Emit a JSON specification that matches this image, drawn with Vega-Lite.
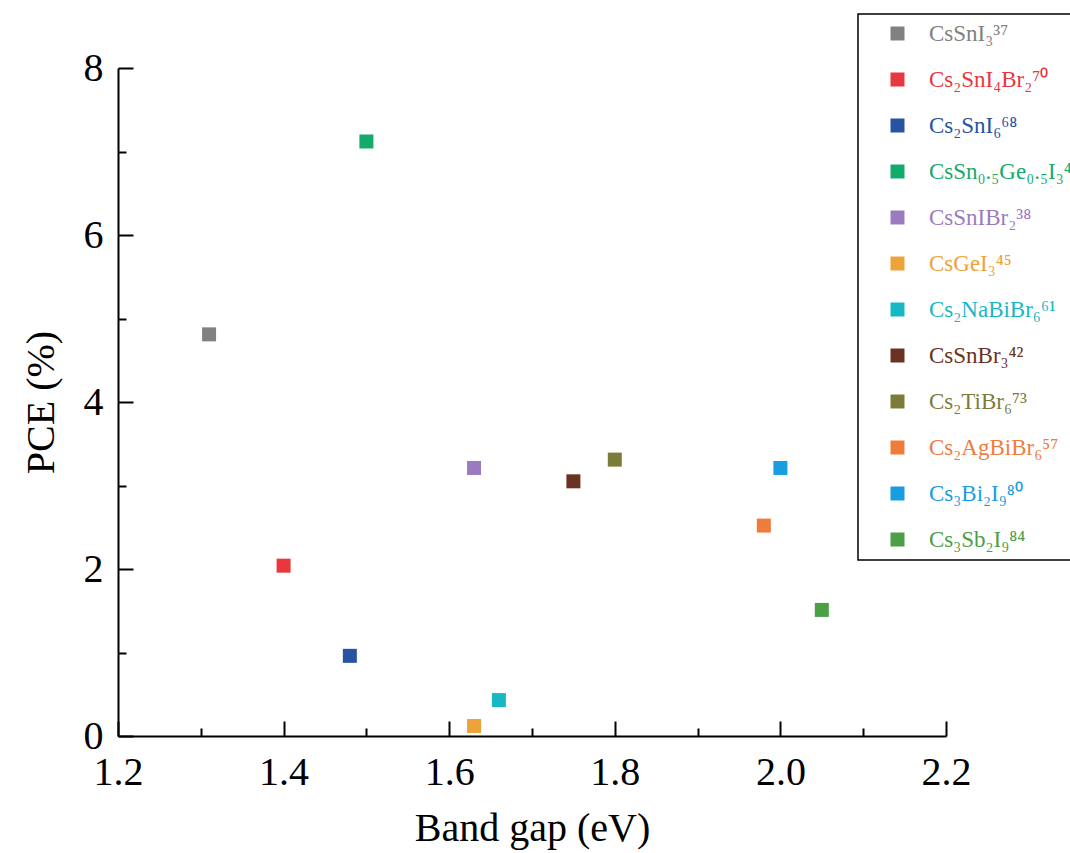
{
  "$schema": "https://vega.github.io/schema/vega-lite/v6.json",
  "width": 828,
  "height": 668,
  "autosize": "none",
  "padding": {"left": 118, "top": 68, "right": 124, "bottom": 117},
  "background": "white",
  "config": {
    "view": {"stroke": null},
    "font": "Liberation Serif",
    "axis": {
      "grid": false,
      "domainColor": "black",
      "domainWidth": 2,
      "tickColor": "black",
      "tickWidth": 2,
      "labelFont": "Liberation Serif",
      "titleFont": "Liberation Serif",
      "labelColor": "black",
      "titleColor": "black",
      "titleFontWeight": "normal"
    }
  },
  "data": {
    "values": [
      {"material": "CsSnI₃³⁷", "gap": 1.31, "pce": 4.81},
      {"material": "Cs₂SnI₄Br₂⁷⁰", "gap": 1.40, "pce": 2.04},
      {"material": "Cs₂SnI₆⁶⁸", "gap": 1.48, "pce": 0.96},
      {"material": "CsSn₀.₅Ge₀.₅I₃⁴³", "gap": 1.50, "pce": 7.12},
      {"material": "CsSnIBr₂³⁸", "gap": 1.63, "pce": 3.21},
      {"material": "CsGeI₃⁴⁵", "gap": 1.63, "pce": 0.12},
      {"material": "Cs₂NaBiBr₆⁶¹", "gap": 1.66, "pce": 0.43},
      {"material": "CsSnBr₃⁴²", "gap": 1.75, "pce": 3.05},
      {"material": "Cs₂TiBr₆⁷³", "gap": 1.80, "pce": 3.31},
      {"material": "Cs₂AgBiBr₆⁵⁷", "gap": 1.98, "pce": 2.52},
      {"material": "Cs₃Bi₂I₉⁸⁰", "gap": 2.00, "pce": 3.21},
      {"material": "Cs₃Sb₂I₉⁸⁴", "gap": 2.05, "pce": 1.51}
    ]
  },
  "resolve": {"axis": {"x": "independent", "y": "independent"}},
  "layer": [
    {
      "mark": {"type": "square", "size": 196, "opacity": 1},
      "encoding": {
        "x": {
          "field": "gap", "type": "quantitative",
          "scale": {"domain": [1.2, 2.2], "nice": false, "zero": false},
          "axis": {
            "orient": "bottom",
            "title": "Band gap (eV)",
            "values": [1.2, 1.4, 1.6, 1.8, 2.0, 2.2],
            "format": ".1f",
            "tickSize": -15,
            "labelPadding": 31,
            "labelFontSize": 40,
            "titleFontSize": 40,
            "titlePadding": 16,
            "labelFlush": false,
            "labelOverlap": false
          }
        },
        "y": {
          "field": "pce", "type": "quantitative",
          "scale": {"domain": [0, 8], "nice": false},
          "axis": {
            "orient": "left",
            "title": "PCE (%)",
            "values": [0, 2, 4, 6, 8],
            "tickSize": -15,
            "labelPadding": 30,
            "labelFontSize": 40,
            "titleFontSize": 40,
            "titlePadding": 22,
            "labelFlush": false,
            "labelOverlap": false
          }
        },
        "color": {
          "field": "material", "type": "nominal",
          "scale": {
            "domain": ["CsSnI₃³⁷", "Cs₂SnI₄Br₂⁷⁰", "Cs₂SnI₆⁶⁸", "CsSn₀.₅Ge₀.₅I₃⁴³", "CsSnIBr₂³⁸", "CsGeI₃⁴⁵", "Cs₂NaBiBr₆⁶¹", "CsSnBr₃⁴²", "Cs₂TiBr₆⁷³", "Cs₂AgBiBr₆⁵⁷", "Cs₃Bi₂I₉⁸⁰", "Cs₃Sb₂I₉⁸⁴"],
            "range": ["#818181", "#e8373e", "#2853a3", "#13ab6c", "#9b7bbf", "#eea33a", "#17b8c6", "#6b3123", "#7c7c3a", "#f07c3c", "#199ddf", "#4b9f45"]
          },
          "legend": {
            "title": null,
            "orient": "none",
            "legendX": 740,
            "legendY": -54,
            "strokeColor": "black",
            "fillColor": "white",
            "padding": 8,
            "symbolType": "square",
            "symbolSize": 196,
            "symbolStrokeWidth": 0,
            "symbolOpacity": 1,
            "symbolOffset": 20,
            "labelOffset": 20,
            "labelFont": "Liberation Serif",
            "labelFontSize": 23,
            "labelLimit": 0,
            "rowPadding": 22,
            "encode": {
              "labels": {"update": {"fill": {"scale": "color", "field": "value"}}},
              "legend": {"update": {"strokeWidth": {"value": 1.5}}}
            }
          }
        }
      }
    },
    {
      "mark": {"type": "point", "opacity": 0},
      "encoding": {
        "x": {
          "field": "gap", "type": "quantitative",
          "axis": {
            "orient": "bottom",
            "title": null,
            "values": [1.3, 1.5, 1.7, 1.9, 2.1],
            "labels": false,
            "domain": false,
            "tickSize": -8,
            "grid": false
          }
        },
        "y": {
          "field": "pce", "type": "quantitative",
          "axis": {
            "orient": "left",
            "title": null,
            "values": [1, 3, 5, 7],
            "labels": false,
            "domain": false,
            "tickSize": -8,
            "grid": false
          }
        }
      }
    }
  ]
}
